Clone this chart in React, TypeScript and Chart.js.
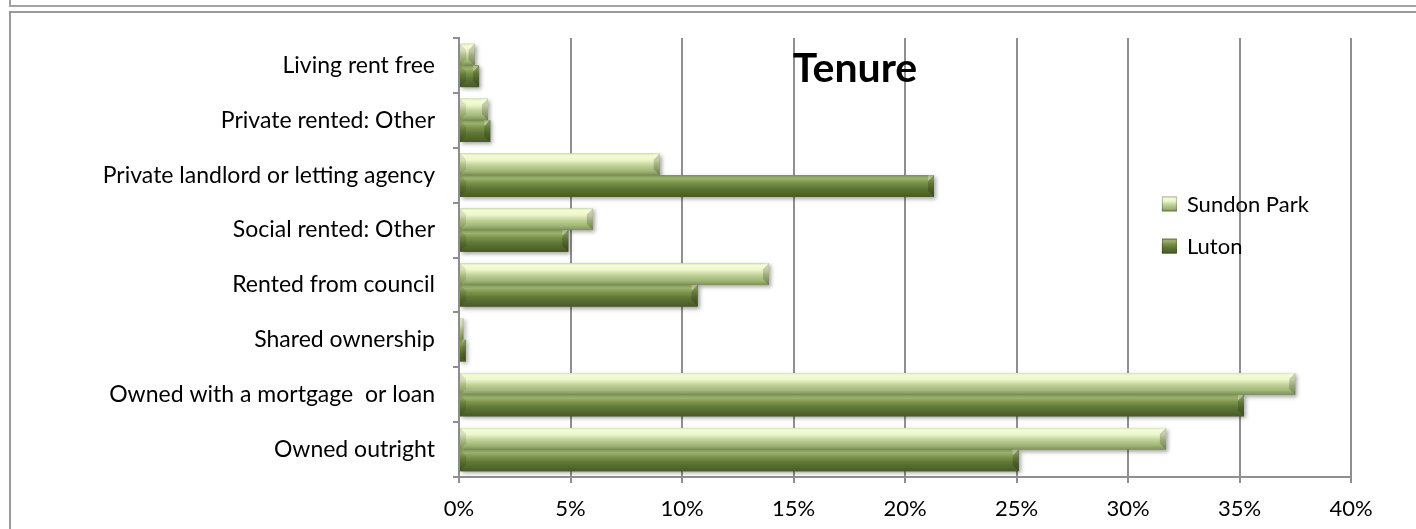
import React, { useEffect, useRef } from "react";
import { Chart, registerables } from "chart.js";

Chart.register(...registerables);

const chartTitle = "Tenure";
const categories = [
  "Living rent free",
  "Private rented: Other",
  "Private landlord or letting agency",
  "Social rented: Other",
  "Rented from council",
  "Shared ownership",
  "Owned with a mortgage  or loan",
  "Owned outright",
];
const seriesNames = ["Sundon Park", "Luton"];
const sundonPark = [0.7, 1.3, 9.0, 6.0, 13.9, 0.2, 37.5, 31.7];
const luton = [0.9, 1.4, 21.3, 4.9, 10.7, 0.3, 35.2, 25.1];
const xMin = 0;
const xMax = 40;
const xStep = 5;

const FONT = "Lato, 'Open Sans', sans-serif";

const lightStops: [number, string][] = [
  [0, "#d6e6ad"],
  [0.1, "#f4fbd6"],
  [0.3, "#eef6cc"],
  [0.55, "#bfd297"],
  [0.8, "#a1b679"],
  [1, "#7f9159"],
];
const darkStops: [number, string][] = [
  [0, "#7f9752"],
  [0.15, "#9cb170"],
  [0.35, "#7b9349"],
  [0.6, "#5e7636"],
  [1, "#475b25"],
];
const seriesStops = [lightStops, darkStops];
const seriesColors = ["#b5c98c", "#617a38"];

function makeGrad(ctx: CanvasRenderingContext2D, top: number, h: number, stops: [number, string][]) {
  const g = ctx.createLinearGradient(0, top, 0, top + h);
  stops.forEach(([o, c]) => g.addColorStop(o, c));
  return g;
}

const barStylePlugin = {
  id: "barStyle",
  afterDatasetsDraw(chart: any) {
    const ctx: CanvasRenderingContext2D = chart.ctx;
    chart.data.datasets.forEach((_ds: any, di: number) => {
      const meta = chart.getDatasetMeta(di);
      const stops = seriesStops[di];
      meta.data.forEach((el: any) => {
        const { x, y, base, height } = el.getProps(["x", "y", "base", "height"], true);
        const top = y - height / 2;
        const left = Math.min(base, x);
        const w = Math.abs(x - base);
        if (w <= 0) return;
        ctx.save();
        ctx.shadowColor = "rgba(0,0,0,0.35)";
        ctx.shadowBlur = 4;
        ctx.shadowOffsetX = 2;
        ctx.shadowOffsetY = 2;
        ctx.fillStyle = makeGrad(ctx, top, height, stops);
        ctx.fillRect(left, top, w, height);
        ctx.restore();
        // bevelled ends
        const b = Math.min(6, w / 2, height / 2);
        const right = left + w;
        const bottom = top + height;
        ctx.save();
        ctx.fillStyle = "rgba(255,255,255,0.28)";
        ctx.beginPath();
        ctx.moveTo(right - b, top + b);
        ctx.lineTo(right - b, top);
        ctx.lineTo(right, top);
        ctx.closePath();
        ctx.fill();
        ctx.fillStyle = "rgba(0,0,0,0.18)";
        ctx.beginPath();
        ctx.moveTo(right - b, top + b);
        ctx.lineTo(right, top);
        ctx.lineTo(right, bottom);
        ctx.lineTo(right - b, bottom - b);
        ctx.closePath();
        ctx.fill();
        ctx.fillStyle = "rgba(0,0,0,0.1)";
        ctx.beginPath();
        ctx.moveTo(left, top);
        ctx.lineTo(left + b, top + b);
        ctx.lineTo(left + b, bottom - b);
        ctx.lineTo(left, bottom);
        ctx.closePath();
        ctx.fill();
        ctx.restore();
      });
    });
  },
};

const overlayPlugin = {
  id: "overlay",
  afterDraw(chart: any) {
    const ctx: CanvasRenderingContext2D = chart.ctx;
    const a = chart.chartArea;
    const W = a.right - a.left;
    const H = a.bottom - a.top;
    ctx.save();
    // title
    ctx.fillStyle = "#000";
    ctx.font = `bold 41px ${FONT}`;
    ctx.textAlign = "center";
    ctx.textBaseline = "alphabetic";
    ctx.fillText(chartTitle, a.left + W * 0.444, a.top + H * 0.101);
    // legend
    ctx.font = `22px ${FONT}`;
    ctx.textAlign = "left";
    ctx.textBaseline = "middle";
    const lx = a.left + W * 0.788;
    const rows = [0.378, 0.474];
    chart.data.datasets.forEach((ds: any, i: number) => {
      const cy = a.top + H * rows[i];
      const s = 15;
      ctx.fillStyle = makeGrad(ctx, cy - s / 2, s, seriesStops[i]);
      ctx.fillRect(lx, cy - s / 2, s, s);
      ctx.strokeStyle = "rgba(0,0,0,0.25)";
      ctx.lineWidth = 1;
      ctx.strokeRect(lx + 0.5, cy - s / 2 + 0.5, s - 1, s - 1);
      ctx.fillStyle = "#000";
      ctx.fillText(ds.label, lx + 25, cy + 1);
    });
    ctx.restore();
  },
};

export default function App() {
  const ref = useRef<HTMLCanvasElement | null>(null);
  useEffect(() => {
    if (!ref.current) return;
    const chart = new Chart(ref.current, {
      type: "bar",
      data: {
        labels: categories,
        datasets: [
          { label: seriesNames[0], data: sundonPark, backgroundColor: seriesColors[0], borderWidth: 0 },
          { label: seriesNames[1], data: luton, backgroundColor: seriesColors[1], borderWidth: 0 },
        ],
      },
      options: {
        indexAxis: "y",
        responsive: false,
        animation: false,
        devicePixelRatio: 1,
        layout: { padding: { left: 0, right: 65, top: 38, bottom: 0 } },
        datasets: { bar: { categoryPercentage: 0.79, barPercentage: 1 } },
        plugins: {
          legend: { display: false },
          title: { display: false },
          tooltip: { enabled: false },
        },
        scales: {
          x: {
            type: "linear",
            min: xMin,
            max: xMax,
            ticks: {
              stepSize: xStep,
              callback: (v: any) => `${v}%`,
              color: "#000",
              font: { family: FONT, size: 22 },
              padding: 13,
            },
            grid: { color: "#8f8f8f", lineWidth: 2, tickLength: 6, drawTicks: true },
            border: { display: true, color: "#8f8f8f", width: 2 },
            afterFit: (s: any) => {
              s.height = 52;
            },
          },
          y: {
            type: "category",
            ticks: {
              color: "#000",
              font: { family: FONT, size: 23 },
              padding: 18,
              autoSkip: false,
            },
            grid: { drawOnChartArea: false, color: "#8f8f8f", lineWidth: 2, tickLength: 6, offset: true },
            border: { display: true, color: "#8f8f8f", width: 2 },
            afterFit: (s: any) => {
              s.width = 459;
            },
          },
        },
      },
      plugins: [barStylePlugin, overlayPlugin],
    } as any);
    return () => chart.destroy();
  }, []);

  return (
    <div>
      <div
        style={{
          position: "fixed",
          left: 9,
          top: -10,
          width: 1500,
          height: 17,
          boxSizing: "border-box",
          border: "2px solid #a3a3a3",
        }}
      />
      <div
        style={{
          position: "fixed",
          left: 9,
          top: 11,
          width: 1500,
          height: 700,
          boxSizing: "border-box",
          border: "2px solid #9a9a9a",
          background: "#fff",
        }}
      />
      <canvas
        ref={ref}
        width={1416}
        height={529}
        style={{ position: "fixed", left: 0, top: 0, width: 1416, height: 529 }}
      />
    </div>
  );
}
